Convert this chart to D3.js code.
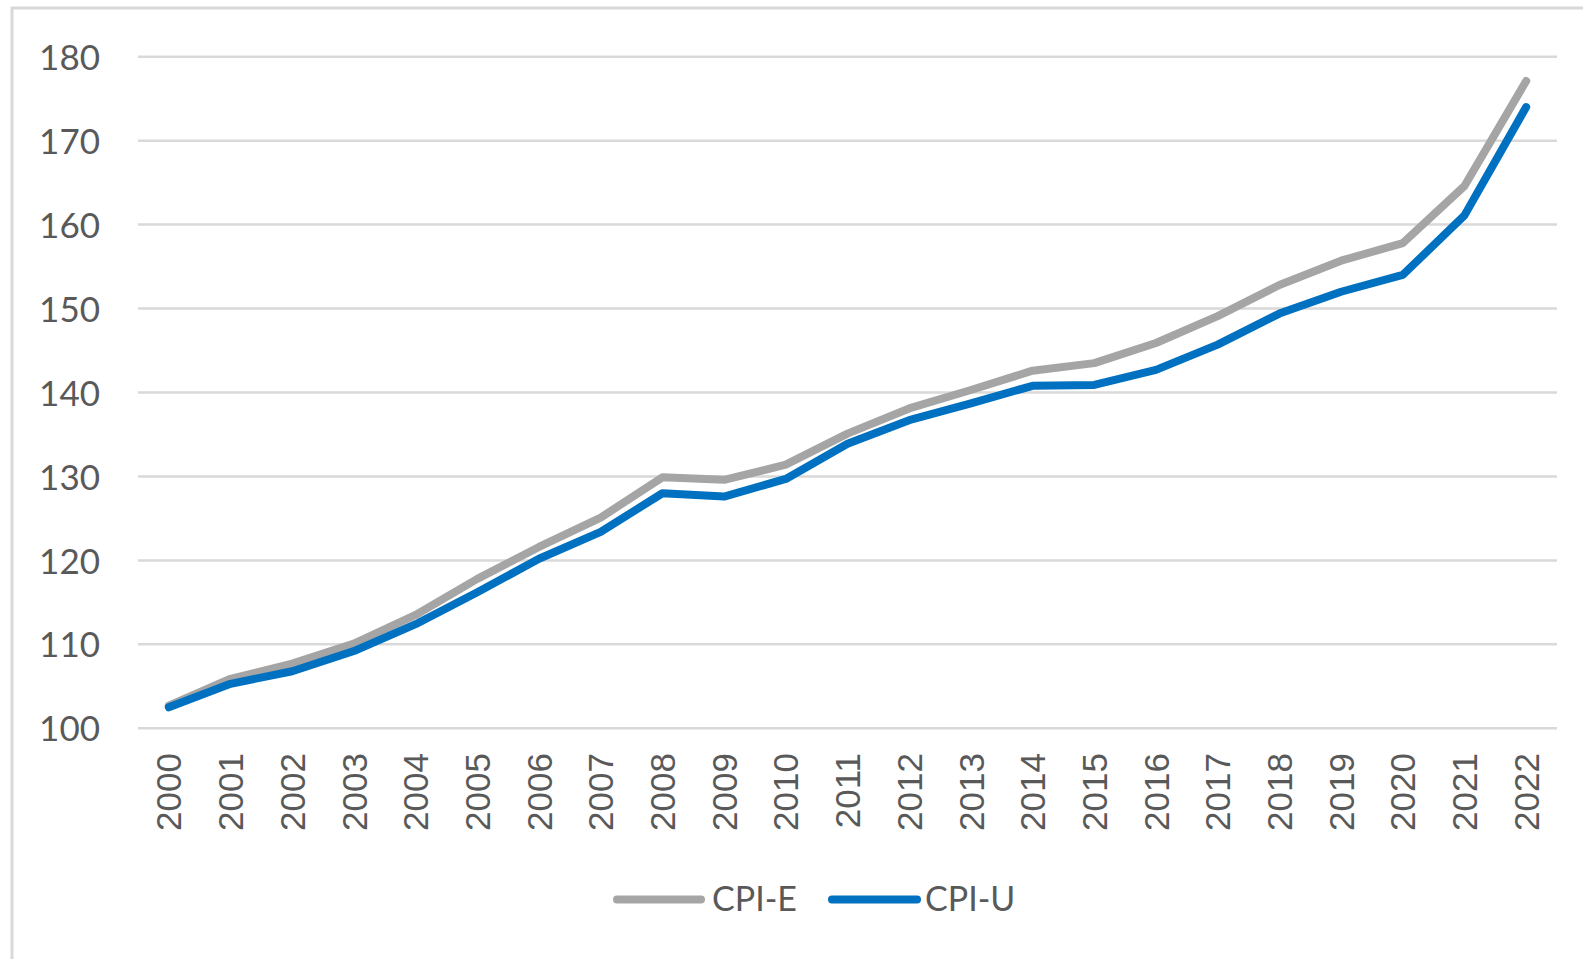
<!DOCTYPE html>
<html>
<head>
<meta charset="utf-8">
<script src="https://cdn.jsdelivr.net/npm/d3@7"></script>
<style>
  html, body { margin: 0; padding: 0; background: #fff; }
  svg { display: block; }
</style>
</head>
<body>
<svg id="chart" width="1583" height="959"></svg>
<script>
const years = ["2000","2001","2002","2003","2004","2005","2006","2007","2008","2009","2010","2011",
               "2012","2013","2014","2015","2016","2017","2018","2019","2020","2021","2022"];
const cpiE = [102.7,105.9,107.7,110.1,113.5,117.8,121.6,125.1,129.9,129.6,131.4,135.1,
              138.1,140.3,142.6,143.5,145.9,149.1,152.8,155.7,157.8,164.6,177.1];
const cpiU = [102.5,105.3,106.8,109.2,112.4,116.2,120.2,123.4,128.0,127.6,129.7,133.9,
              136.7,138.7,140.8,140.9,142.7,145.7,149.4,152.0,154.0,161.1,174.0];
const yTicks = [100,110,120,130,140,150,160,170,180];
const seriesNames = ["CPI-E","CPI-U"];
const seriesColors = ["#A5A5A5","#0070C0"];

const svg = d3.select("#chart");
const textColor = "#595959";

// outer border
svg.append("rect")
  .attr("x", 12).attr("y", 8)
  .attr("width", 1600).attr("height", 1000)
  .attr("fill", "none")
  .attr("stroke", "#D9D9D9")
  .attr("stroke-width", 3);

const plot = {left: 138, right: 1557, top: 56.7, bottom: 728.3};

const x = d3.scaleBand().domain(years).range([plot.left, plot.right]);
const y = d3.scaleLinear().domain([100, 180]).range([plot.bottom, plot.top]);

// gridlines
svg.append("g").selectAll("line").data(yTicks).join("line")
  .attr("x1", plot.left).attr("x2", plot.right)
  .attr("y1", d => y(d)).attr("y2", d => y(d))
  .attr("stroke", "#D9D9D9").attr("stroke-width", 2.5);

// y axis labels
const yAxis = d3.axisLeft(y).tickValues(yTicks).tickSize(0).tickPadding(0);
const gy = svg.append("g").attr("transform", "translate(100,0)").call(yAxis);
gy.select(".domain").remove();
gy.selectAll("text")
  .attr("fill", textColor)
  .style("font-family", "Lato, 'Open Sans', sans-serif")
  .style("font-size", "35px")
  .attr("dy", "0.36em");

// x axis labels (rotated)
const xAxis = d3.axisBottom(x).tickSize(0).tickPadding(0);
const gx = svg.append("g").attr("transform", "translate(0,753)").call(xAxis);
gx.select(".domain").remove();
gx.selectAll("text")
  .attr("fill", textColor)
  .style("font-family", "'Liberation Sans', Arial, sans-serif")
  .style("font-size", "35px")
  .attr("text-anchor", "end")
  .attr("y", 0)
  .attr("dy", "0.36em")
  .attr("transform", "rotate(-90)");

// lines
const line = d3.line()
  .x((d, i) => x(years[i]) + x.bandwidth() / 2)
  .y(d => y(d));

[cpiE, cpiU].forEach((vals, k) => {
  svg.append("path")
    .datum(vals)
    .attr("d", line)
    .attr("fill", "none")
    .attr("stroke", seriesColors[k])
    .attr("stroke-width", 8)
    .attr("stroke-linecap", "round")
    .attr("stroke-linejoin", "round");
});

// legend
const legendItems = [
  {name: seriesNames[0], color: seriesColors[0], x0: 617, x1: 701, tx: 712},
  {name: seriesNames[1], color: seriesColors[1], x0: 832, x1: 917, tx: 925}
];
const lg = svg.append("g");
legendItems.forEach(it => {
  lg.append("line")
    .attr("x1", it.x0).attr("x2", it.x1)
    .attr("y1", 899.5).attr("y2", 899.5)
    .attr("stroke", it.color).attr("stroke-width", 8)
    .attr("stroke-linecap", "round");
  lg.append("text")
    .attr("x", it.tx).attr("y", 911)
    .attr("fill", textColor)
    .style("font-family", "Lato, 'Open Sans', sans-serif")
    .style("font-size", "34px")
    .text(it.name);
});
</script>
</body>
</html>
